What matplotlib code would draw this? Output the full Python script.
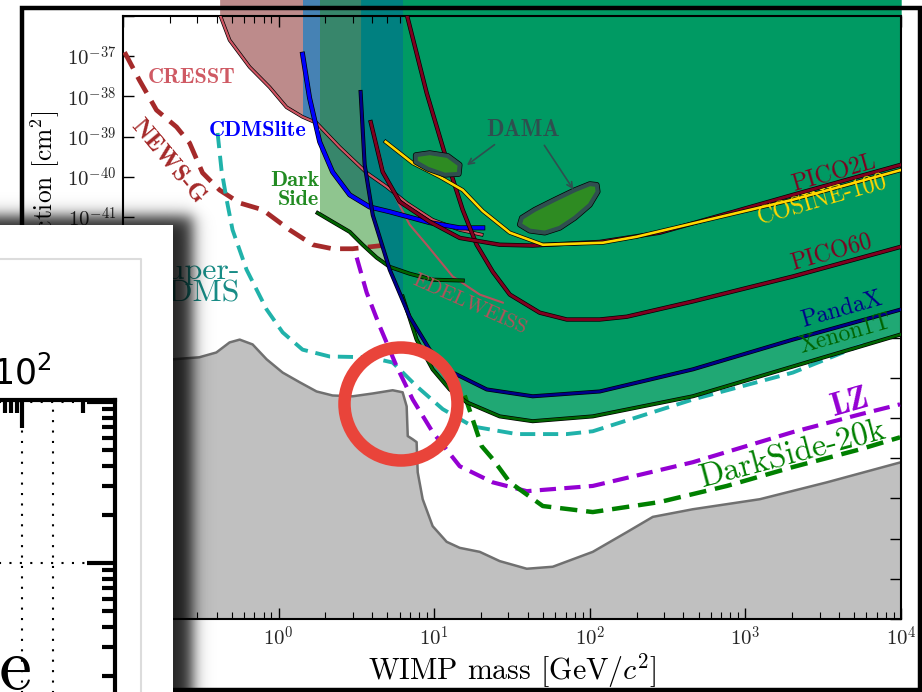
import matplotlib
matplotlib.use('Agg')
import matplotlib.pyplot as plt
import matplotlib.patheffects as pe
from matplotlib.patches import Rectangle, Circle
from matplotlib.ticker import FuncFormatter, LogLocator, NullLocator, NullFormatter, FixedLocator
import numpy as np

plt.rcParams['mathtext.fontset'] = 'cm'

# values: log10(mass / GeV) and log10(sigma / cm^2)
nufloor_lm = [-1.0, -0.68, -0.51, -0.40, -0.315, -0.25, -0.167, -0.077, 0.026, 0.135, 0.244, 0.347,
              0.476, 0.605, 0.733, 0.797, 0.823, 0.83, 0.862, 0.887, 0.894, 0.926, 0.99, 1.08, 1.164,
              1.293, 1.421, 1.595, 1.762, 2.019, 2.238, 2.405, 2.662, 3.093, 3.524, 4.0]
nufloor_ls = [-44.54, -44.54, -44.49, -44.37, -44.12, -44.05, -44.17, -44.54, -44.87, -45.11, -45.34, -45.44,
              -45.46, -45.39, -45.31, -45.36, -45.71, -46.45, -46.53, -46.60, -47.35, -48.02, -48.69, -49.08, -49.23,
              -49.33, -49.56, -49.75, -49.70, -49.33, -48.84, -48.46, -48.27, -48.02, -47.60, -47.10]

cresst_lm = [-0.379, -0.315, -0.186, -0.058, 0.051, 0.154, 0.244, 0.392, 0.566, 0.695, 0.823, 0.99, 1.164, 1.305]
cresst_ls = [-35.95, -36.60, -37.27, -37.77, -38.27, -38.51, -38.66, -39.26, -39.90, -40.25, -40.65, -41.07, -41.32, -41.44]

cdmslite_lm = [0.154, 0.199, 0.264, 0.347, 0.457, 0.585, 0.714, 0.971, 1.164, 1.312]
cdmslite_ls = [-36.95, -38.04, -39.13, -39.88, -40.45, -40.75, -40.87, -41.14, -41.27, -41.27]

darkside_lm = [0.251, 0.347, 0.457, 0.540, 0.630, 0.714, 0.842, 0.99, 1.183]
darkside_ls = [-40.90, -41.12, -41.37, -41.69, -42.01, -42.24, -42.41, -42.56, -42.58]

pandax_lm = [0.527, 0.553, 0.605, 0.714, 0.842, 0.971, 1.119, 1.338, 1.633, 2.064, 2.662, 3.305, 4.0]
pandax_ls = [-37.89, -39.70, -40.95, -42.31, -43.48, -44.30, -44.87, -45.29, -45.46, -45.34, -44.79, -44.05, -43.30]

xenon_lm = [0.797, 0.887, 0.99, 1.100, 1.209, 1.421, 1.633, 2.019, 2.662, 3.305, 4.0]
xenon_ls = [-42.98, -44.05, -44.79, -45.29, -45.61, -45.96, -46.08, -45.96, -45.46, -44.72, -43.92]

pico60_lm = [0.823, 0.952, 1.080, 1.183, 1.273, 1.376, 1.486, 1.678, 1.852, 2.064, 2.238, 2.662, 3.305, 4.0]
pico60_ls = [-35.95, -37.92, -39.58, -40.82, -41.69, -42.36, -42.93, -43.38, -43.55, -43.55, -43.48, -43.10, -42.48, -41.74]

pico2l_lm = [0.592, 0.669, 0.778, 0.971, 1.164, 1.421, 1.633, 2.064, 2.45, 3.305, 4.0]
pico2l_ls = [-38.64, -39.88, -40.62, -41.12, -41.52, -41.69, -41.71, -41.62, -41.39, -40.45, -39.70]

cosine_lm = [0.688, 0.862, 1.035, 1.183, 1.312, 1.486, 1.698, 2.084, 2.302, 2.836, 3.305, 4.0]
cosine_ls = [-39.13, -39.66, -40.00, -40.33, -40.85, -41.39, -41.69, -41.64, -41.49, -41.00, -40.57, -39.83]

edelweiss_lm = [0.605, 0.682, 0.759, 0.842, 0.952, 1.119, 1.293, 1.441]
edelweiss_ls = [-38.76, -39.95, -40.57, -41.19, -41.69, -42.48, -42.93, -43.13]

newsg_lm = [-0.99, -0.894, -0.785, -0.656, -0.572, -0.489, -0.379, -0.251, -0.103, 0.071, 0.219, 0.347, 0.476, 0.662]
newsg_ls = [-36.90, -37.60, -38.34, -38.76, -39.16, -39.90, -40.33, -40.65, -40.82, -41.32, -41.69, -41.79, -41.79, -41.71]

supercdms_lm = [-0.392, -0.367, -0.334, -0.296, -0.206, -0.141, -0.077, 0.026, 0.154, 0.328, 0.585, 0.733,
                0.887, 1.055, 1.248, 1.531, 1.852, 2.019, 2.662, 3.305, 3.756]
supercdms_ls = [-38.91, -39.83, -40.57, -41.32, -42.31, -42.81, -43.30, -43.87, -44.30, -44.47, -44.49, -44.62,
                -45.21, -45.78, -46.21, -46.40, -46.40, -46.33, -45.54, -44.87, -44.17]

lz_lm = [0.502, 0.566, 0.650, 0.759, 0.862, 0.99, 1.164, 1.376, 1.595, 2.019, 2.662, 3.305, 3.736, 3.994]
lz_ls = [-42.01, -42.88, -43.72, -44.72, -45.54, -46.35, -47.20, -47.60, -47.82, -47.69, -47.10, -46.35, -45.91, -45.66]

ds20k_lm = [1.196, 1.305, 1.376, 1.486, 1.698, 2.019, 2.45, 2.881, 3.305, 3.736, 3.994]
ds20k_ls = [-45.44, -46.70, -47.02, -47.60, -48.19, -48.34, -48.09, -47.69, -47.22, -46.78, -46.48]

dama_small_lm = [0.881, 0.971, 1.087, 1.164, 1.158, 1.068, 0.958, 0.881]
dama_small_ls = [-39.46, -39.41, -39.48, -39.70, -39.93, -39.95, -39.80, -39.63]
dama_large_lm = [1.550, 1.614, 1.711, 1.807, 1.904, 2.0, 2.051, 2.045, 2.0, 1.904, 1.775, 1.646, 1.563]
dama_large_ls = [-41.19, -41.34, -41.39, -41.27, -41.02, -40.70, -40.37, -40.20, -40.18, -40.33, -40.57, -40.82, -41.02]

# mass edges (log10 GeV) where the shaded columns change colour
band_lm = [0.154, 0.264, 0.527, 0.797]


def pts(lm, ls):
    return 10 ** np.asarray(lm, float), 10 ** np.asarray(ls, float)


fig = plt.figure(figsize=(9.22, 6.92), dpi=100)
ax = fig.add_axes([123 / 922, 1 - 619 / 692, 778 / 922, 603 / 692])
ax.set_xscale('log')
ax.set_yscale('log')
ax.set_xlim(1e-1, 1e4)
ax.set_ylim(1e-51, 1e-36)


def region(lm, ls, lo, hi, color, z):
    x, y = pts(lm, ls)
    poly = ax.fill_between(x, y, 1e-30, color=color, lw=0, zorder=z)
    clip = Rectangle((10 ** lo, 1e-60), 10 ** hi - 10 ** lo, 1e-20, transform=ax.transData)
    poly.set_clip_path(clip)


def limit(lm, ls, color, lw, z=4, edge=True):
    x, y = pts(lm, ls)
    fx = [pe.Stroke(linewidth=lw + 1.0, foreground='k'), pe.Normal()] if edge else []
    ax.plot(x, y, color=color, lw=lw, zorder=z, path_effects=fx)


def projection(lm, ls, color, lw):
    x, y = pts(lm, ls)
    ax.plot(x, y, color=color, lw=lw, ls=(0, (3.9, 2.0)), zorder=3)


def label(lm, ls, s, color, size, rot=0, bold=False, ha='center', spacing=1.2):
    ax.text(10 ** lm, 10 ** ls, s, color=color, fontsize=size, rotation=rot, rotation_mode='anchor',
            ha=ha, va='center', fontfamily='cmb10' if bold else 'cmr10', zorder=6, linespacing=spacing)


# neutrino floor
nx, ny = pts(nufloor_lm, nufloor_ls)
ax.fill_between(nx, 1e-60, ny, color='#c0c0c0', lw=0, zorder=1)
ax.plot(nx, ny, color='#707070', lw=1.8, zorder=2)

# excluded regions
region(cresst_lm, cresst_ls, -2, band_lm[0], '#bd8b8b', 1.1)
region(cresst_lm, cresst_ls, band_lm[0], band_lm[1], '#4682b4', 1.2)
region(darkside_lm, darkside_ls, band_lm[1], 4.1, '#8fc58f', 1.3)
region(cdmslite_lm, cdmslite_ls, band_lm[1], 4.1, '#37866b', 1.4)
region(pandax_lm, pandax_ls, band_lm[2], band_lm[3], '#008080', 1.5)
region(xenon_lm, xenon_ls, band_lm[3], 4.1, '#20a874', 1.6)
region(pandax_lm, pandax_ls, band_lm[3], 4.1, '#009a63', 1.7)

# projections
projection(newsg_lm, newsg_ls, '#a52a2a', 3.4)
projection(supercdms_lm, supercdms_ls, '#20b2aa', 2.8)
projection(lz_lm, lz_ls, '#9400d3', 3.0)
projection(ds20k_lm, ds20k_ls, '#008000', 3.2)

# current limits
limit(cresst_lm, cresst_ls, '#cf5563', 1.6)
limit(edelweiss_lm, edelweiss_ls, '#b5525c', 1.5, edge=False)
limit(cdmslite_lm, cdmslite_ls, '#0000ff', 2.6)
limit(darkside_lm, darkside_ls, '#006400', 1.9)
limit(xenon_lm, xenon_ls, '#006400', 1.9)
limit(pandax_lm, pandax_ls, '#00008b', 1.9)
limit(pico60_lm, pico60_ls, '#800020', 2.1)
limit(pico2l_lm, pico2l_ls, '#800020', 2.1)
limit(cosine_lm, cosine_ls, '#ffd700', 1.9)

for lm, ls in [(dama_small_lm, dama_small_ls), (dama_large_lm, dama_large_ls)]:
    dx, dy = pts(lm, ls)
    ax.fill(dx, dy, fc='#2e8b22', ec='#2f4f4f', lw=3.0, zorder=5, joinstyle='round',
            path_effects=[pe.Stroke(linewidth=4.0, foreground='k'), pe.Normal()])

ax.annotate('', xy=(10 ** 1.196, 10 ** -39.75), xytext=(10 ** 1.402, 10 ** -39.16),
            arrowprops=dict(arrowstyle='->', color='#2f4f4f', lw=1.2), zorder=6)
ax.annotate('', xy=(10 ** 1.904, 10 ** -40.37), xytext=(10 ** 1.698, 10 ** -39.16),
            arrowprops=dict(arrowstyle='->', color='#2f4f4f', lw=1.2), zorder=6)

label(-0.559, -37.52, 'CRESST', '#cf5a64', 16, bold=True)
label(-0.135, -38.84, 'CDMSlite', '#0000ff', 16, bold=True)
label(0.262, -40.33, 'Dark\nSide', '#228b22', 16, bold=True, ha='right', spacing=1.0)
label(-0.714, -39.63, 'NEWS-G', '#a52a2a', 18, rot=-50, bold=True)
label(-0.251, -42.63, 'Super-\nCDMS', '#188c86', 23, ha='right', spacing=0.8)
label(1.228, -43.18, 'EDELWEISS', '#b3525a', 15, rot=-24)
label(1.569, -38.84, 'DAMA', '#2f4f4f', 16.5, bold=True)
label(3.569, -39.93, 'PICO2L', '#800020', 17, rot=16)
label(3.492, -40.57, 'COSINE-100', '#ffd700', 17, rot=16)
label(3.556, -41.89, 'PICO60', '#800020', 17, rot=16)
label(3.621, -43.30, 'PandaX', '#00008b', 17, rot=16)
label(3.640, -43.92, 'Xenon1T', '#006400', 17, rot=16)
label(3.672, -45.61, 'LZ', '#9400d3', 23, rot=16, bold=True)
label(3.305, -46.90, 'DarkSide-20k', '#008000', 23.5, rot=15)


def decade(v, pos):
    e = int(round(np.log10(v)))
    return '' if e == -36 else r'$10^{%d}$' % e


ax.xaxis.set_major_formatter(FuncFormatter(decade))
ax.yaxis.set_major_formatter(FuncFormatter(decade))
ax.yaxis.set_major_locator(LogLocator(base=10, numticks=30))
ax.yaxis.set_minor_locator(NullLocator())
ax.xaxis.set_minor_locator(LogLocator(base=10, subs=np.arange(2, 10), numticks=30))
ax.xaxis.set_minor_formatter(NullFormatter())
ax.tick_params(which='both', direction='in', top=True, right=True, labelsize=15, labelcolor='#262626', pad=5)
ax.tick_params(which='major', length=8, width=1)
ax.tick_params(which='minor', length=5, width=0.8)
for s in ax.spines.values():
    s.set_linewidth(1.5)
ax.set_xlabel(r'WIMP mass [GeV/$c^2$]', fontfamily='cmr10', fontsize=21.5, labelpad=1)
ax.set_ylabel(r'SI WIMP-nucleon cross section [cm$^2$]', fontfamily='cmr10', fontsize=18.3, labelpad=3)

# slide decorations: frame, highlight ring, overlapping card with shadow
ov = fig.add_axes([0, 0, 1, 1], zorder=10)
ov.patch.set_alpha(0)
ov.axis('off')
ov.add_patch(Rectangle((21.5, 7.5), 898.5, 682.5, fill=False, ec='k', lw=3.2, zorder=1))
ov.add_patch(Circle((401, 404), 56.5, fill=False, ec='#e9443a', lw=9, zorder=2))

X, Y = np.meshgrid(np.arange(0, 240) + 0.5, np.arange(180, 692) + 0.5)
shade = np.zeros(X.shape + (4,))
shade[..., 3] = 0.85 / (1 + np.exp((X - 192) / 4.5)) / (1 + np.exp((216 - Y) / 4.5))
ov.imshow(shade, extent=(0, 240, 692, 180), origin='upper', aspect='auto', interpolation='bilinear', zorder=3)
ov.add_patch(Rectangle((0, 225), 173, 470, fc='white', ec='none', zorder=4))
ov.plot([0, 141, 141], [259, 259, 692], color='#dcdcdc', lw=1.5, zorder=5)
ov.text(33, 689, 'le', ha='right', va='baseline', fontfamily='cmr10', fontsize=53, zorder=6)
ov.set_xlim(0, 922)
ov.set_ylim(692, 0)

ins = fig.add_axes([-400 / 922, 1 - 800 / 692, 515 / 922, 400.5 / 692], zorder=11)
ins.patch.set_visible(False)
ins.set_xscale('log')
ins.set_yscale('log')
ins.set_xlim(10 ** -1.836, 10 ** 2.845)
ins.set_ylim(10 ** -1.472, 10 ** 1.0155)
ins.xaxis.set_minor_locator(FixedLocator([70, 80, 90, 360]))
ins.xaxis.set_minor_formatter(NullFormatter())
for s in ins.spines.values():
    s.set_linewidth(3)
ins.tick_params(which='both', direction='in', top=True, right=True, bottom=False, left=False,
                labeltop=True, labelbottom=False, labelleft=False, labelright=False, width=3)
ins.tick_params(which='major', length=20, labelsize=25, pad=6, labelfontfamily='DejaVu Sans')
ins.tick_params(which='minor', length=9.5)
ins.grid(True, which='major', color='k', ls=(0, (1, 4)), lw=1.5)
ins.axvline(190, color='k', ls=(0, (1, 4)), lw=1.5)

fig.savefig('out.png', dpi=100)
